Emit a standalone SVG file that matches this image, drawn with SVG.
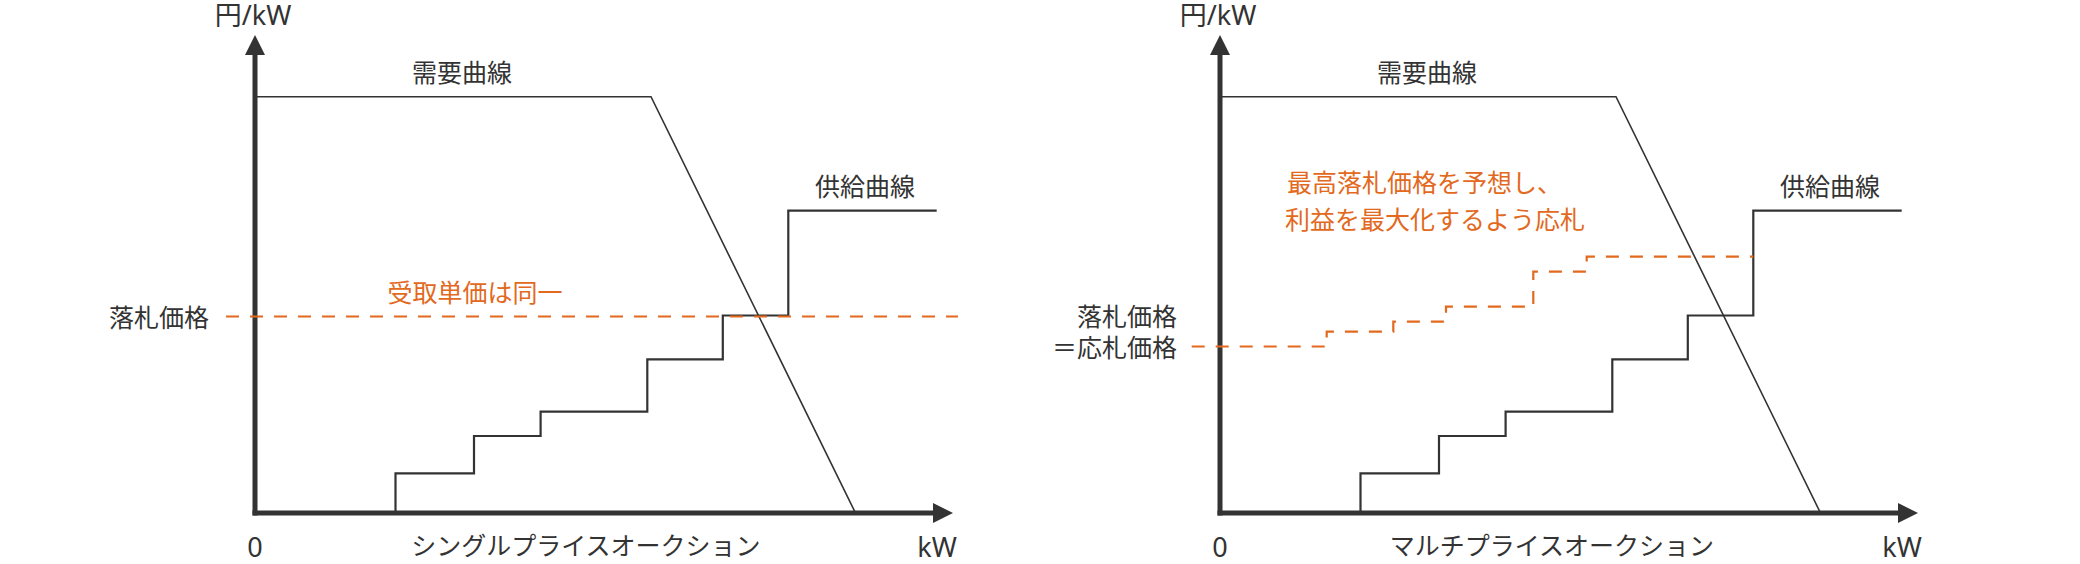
<svg xmlns="http://www.w3.org/2000/svg" width="2080" height="564" viewBox="0 0 2080 564">
<style>
  text { font-family: "Noto Sans CJK JP", "Noto Sans", sans-serif; font-size: 25px; fill: #333; }
  text.lat { font-family: "Noto Sans", "Noto Sans CJK JP", sans-serif; font-size: 27px; }
  .or { fill: #E2691D; }
  .axis { stroke: #333; stroke-width: 5; fill: none; }
  .demand { stroke: #333; stroke-width: 1.6; fill: none; }
  .supply { stroke: #333; stroke-width: 2.2; fill: none; }
  .dash { stroke: #E2691D; stroke-width: 2.2; fill: none; stroke-dasharray: 13 11; }
</style>
<defs>
  <marker id="arr" markerUnits="userSpaceOnUse" markerWidth="20" markerHeight="20" refX="0" refY="10" orient="auto">
    <path d="M0,0 L20,10 L0,20 z" fill="#333"/>
  </marker>
</defs>
<rect width="2080" height="564" fill="#fff"/>

<g id="chart-single">
  <g id="axes-left">
    <line class="axis" x1="255" y1="515.5" x2="255" y2="55" marker-end="url(#arr)"/>
    <line class="axis" x1="252.5" y1="513" x2="933" y2="513" marker-end="url(#arr)"/>
    <text class="lat" x="253" y="25" text-anchor="middle">円/kW</text>
    <text class="lat" x="255" y="557" text-anchor="middle">0</text>
    <text class="lat" x="937" y="557" text-anchor="middle">kW</text>
    <text x="586" y="555" text-anchor="middle">シングルプライスオークション</text>
  </g>
  <g id="demand-left">
    <polyline class="demand" points="255,96.7 651,96.7 855.5,513"/>
    <text x="462" y="82" text-anchor="middle">需要曲線</text>
  </g>
  <g id="supply-left">
    <polyline class="supply" points="395.5,513 395.5,473.3 474,473.3 474,436 540.6,436 540.6,411.7 647.3,411.7 647.3,359.3 722.8,359.3 722.8,315.5 788.3,315.5 788.3,210.7 936.7,210.7"/>
    <text x="865" y="196" text-anchor="middle">供給曲線</text>
  </g>
  <g id="price-left">
    <line class="dash" x1="226" y1="316.5" x2="958" y2="316.5"/>
    <text x="209" y="327" text-anchor="end">落札価格</text>
    <text class="or" x="475" y="302" text-anchor="middle">受取単価は同一</text>
  </g>
</g>

<g id="chart-multi">
  <g id="axes-right">
    <line class="axis" x1="1220" y1="515.5" x2="1220" y2="55" marker-end="url(#arr)"/>
    <line class="axis" x1="1217.5" y1="513" x2="1898" y2="513" marker-end="url(#arr)"/>
    <text class="lat" x="1218" y="25" text-anchor="middle">円/kW</text>
    <text class="lat" x="1220" y="557" text-anchor="middle">0</text>
    <text class="lat" x="1902" y="557" text-anchor="middle">kW</text>
    <text x="1552" y="555" text-anchor="middle">マルチプライスオークション</text>
  </g>
  <g id="demand-right">
    <polyline class="demand" points="1220,96.7 1616,96.7 1820.5,513"/>
    <text x="1427" y="82" text-anchor="middle">需要曲線</text>
  </g>
  <g id="supply-right">
    <polyline class="supply" points="1360.5,513 1360.5,473.3 1439,473.3 1439,436 1505.6,436 1505.6,411.7 1612.3,411.7 1612.3,359.3 1687.8,359.3 1687.8,315.5 1753.3,315.5 1753.3,210.7 1901.7,210.7"/>
    <text x="1830" y="196" text-anchor="middle">供給曲線</text>
  </g>
  <g id="price-right">
    <polyline class="dash" points="1191.7,346.5 1326.7,346.5 1326.7,331.7 1393.3,331.7 1393.3,321.7 1446,321.7 1446,306.7 1533.3,306.7 1533.3,271.7 1586.7,271.7 1586.7,256.7 1753.3,256.7"/>
    <text x="1177" y="326" text-anchor="end">落札価格</text>
    <text x="1177" y="357" text-anchor="end">＝応札価格</text>
    <text class="or" x="1287" y="192">最高落札価格を予想し、</text>
    <text class="or" x="1285" y="229">利益を最大化するよう応札</text>
  </g>
</g>
</svg>
